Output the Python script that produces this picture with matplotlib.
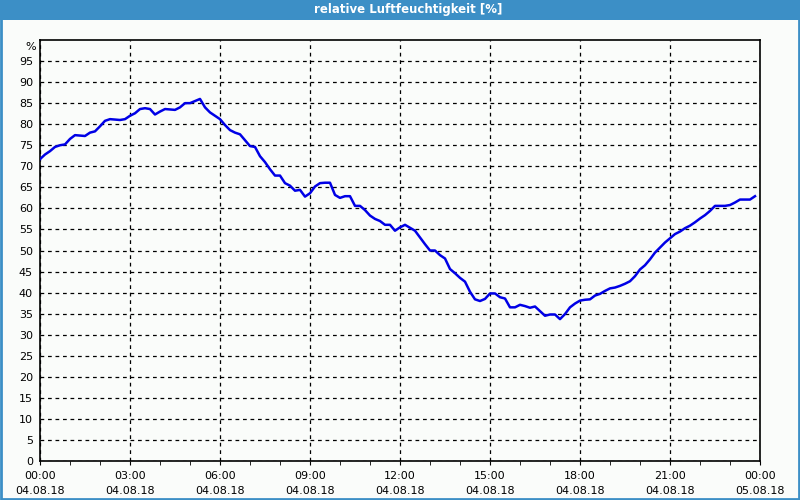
import numpy as np
import matplotlib.pyplot as plt
from matplotlib.patches import Rectangle

# relative humidity, 10 minute samples starting 04.08.18 00:00
humidity = [
    71.7, 72.8, 73.6, 74.6, 75.0, 75.2, 76.5, 77.4, 77.3, 77.2, 78.0, 78.3,
    79.5, 80.8, 81.2, 81.1, 81.0, 81.2, 82.0, 82.6, 83.6, 83.8, 83.6, 82.3,
    83.0, 83.6, 83.5, 83.4, 84.0, 85.0, 85.0, 85.5, 86.0, 84.0, 82.8, 82.0,
    81.2, 79.8, 78.6, 78.0, 77.6, 76.2, 74.8, 74.6, 72.4, 71.0, 69.3, 67.8,
    67.8, 66.0, 65.4, 64.2, 64.4, 62.8, 63.6, 65.2, 66.0, 66.1, 66.1, 63.2,
    62.5, 62.9, 62.9, 60.6, 60.6, 59.6, 58.3, 57.5, 57.0, 56.1, 56.1, 54.7,
    55.5, 56.1, 55.4, 54.7, 53.1, 51.5, 50.0, 50.0, 48.9, 48.1, 45.6, 44.6,
    43.5, 42.6, 40.2, 38.4, 38.0, 38.5, 39.8, 39.8, 38.9, 38.6, 36.5, 36.5,
    37.1, 36.8, 36.4, 36.7, 35.6, 34.5, 34.8, 34.8, 33.7, 34.9, 36.5, 37.4,
    38.1, 38.3, 38.4, 39.3, 39.7, 40.4, 41.0, 41.2, 41.6, 42.1, 42.7, 43.9,
    45.5, 46.5, 47.9, 49.5, 50.7, 51.9, 52.9, 53.9, 54.5, 55.3, 55.9, 56.7,
    57.6, 58.4, 59.4, 60.6, 60.6, 60.6, 60.8, 61.4, 62.1, 62.1, 62.1, 62.9,
]
hours = np.arange(len(humidity)) / 6.0

tick_hours = [0, 3, 6, 9, 12, 15, 18, 21, 24]
tick_labels = ["00:00\n04.08.18", "03:00\n04.08.18", "06:00\n04.08.18",
               "09:00\n04.08.18", "12:00\n04.08.18", "15:00\n04.08.18",
               "18:00\n04.08.18", "21:00\n04.08.18", "00:00\n05.08.18"]
y_ticks = list(range(0, 100, 5))

title = "relative Luftfeuchtigkeit [%]"

bg = "#fafcfa"
bar_blue = "#3c8fc6"

fig = plt.figure(figsize=(8, 5), dpi=100, facecolor=bg)

# title bar and frame
fig.patches.append(Rectangle((0, 0.96), 1, 0.04, transform=fig.transFigure,
                             facecolor=bar_blue, edgecolor="none", zorder=0))
fig.patches.append(Rectangle((0.001, 0.002), 0.998, 0.996, transform=fig.transFigure,
                             facecolor="none", edgecolor=bar_blue, lw=2, zorder=1))
fig.text(0.51, 0.98, title, color="white", ha="center", va="center",
         fontsize=8.5, fontweight="bold")

ax = fig.add_axes([0.05, 0.078, 0.90, 0.842])
ax.set_facecolor(bg)
ax.plot(hours, humidity, color="#0000e6", lw=1.8, zorder=3)

ax.set_xlim(0, 24)
ax.set_ylim(0, 100)
ax.set_xticks(tick_hours)
ax.set_xticklabels(tick_labels, fontsize=8, linespacing=1.6)
ax.set_xticks(range(0, 25), minor=True)
ax.set_yticks(y_ticks)
ax.set_yticklabels([str(v) for v in y_ticks], fontsize=8)
ax.tick_params(axis="y", length=0, pad=5)
ax.tick_params(axis="x", which="both", length=3, direction="out", pad=4)
ax.text(-0.005, 99.5, "%", transform=ax.get_yaxis_transform(),
        ha="right", va="top", fontsize=8)

ax.grid(True, which="major", color="black", linestyle=(0, (3, 3)), lw=0.9)
for s in ax.spines.values():
    s.set_linewidth(1.2)

fig.savefig("out.png", dpi=100, facecolor=bg)
